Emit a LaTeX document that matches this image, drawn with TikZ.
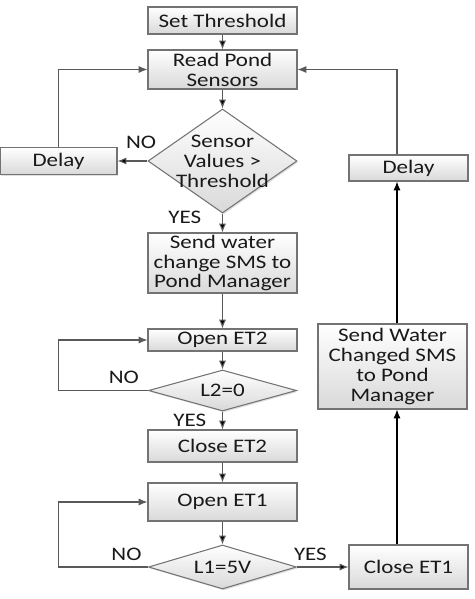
\documentclass[tikz,border=0pt]{standalone}
\usepackage{fontspec}
\setmainfont{Carlito}[FakeStretch=1.2]
\usepackage{tikz}
\usetikzlibrary{shapes.geometric, positioning, arrows.meta, shadows}
\tikzset{->,>={Latex[length=5pt,width=4pt]},
node distance=1cm,
every node/.style={font=\fontsize{10.9}{11.3}\selectfont, text=black!90},
box/.style={draw=black!55, line width=0.6pt, top color=white, bottom color=black!15,
  align=center, inner sep=0pt, minimum width=2.98cm,
  drop shadow={shadow xshift=0.8pt, shadow yshift=-0.8pt, opacity=0.25}},
decision/.style={box, diamond, aspect=3.5},
link/.style={draw=black!65, line width=0.6pt}}

\begin{document}
\begin{tikzpicture}
\useasboundingbox (0,0) rectangle (9.5,-11.98);
\node[box,minimum height=0.54cm] (thr) at (4.45,-0.41) {Set Threshold};
\node[box,minimum height=0.78cm,node distance=0.98cm,below of=thr] (read) {Read Pond\\Sensors};
\node[decision,minimum height=2.08cm,node distance=1.83cm,below of=read,
  label={[align=center]center:Sensor\\Values >\\Threshold}] (dec1) {};
\node[box,minimum width=2.34cm,minimum height=0.54cm,node distance=3.28cm,left of=dec1] (delayL) {Delay};
\node[box,minimum width=2.38cm,minimum height=0.52cm,node distance=3.72cm,right of=dec1,yshift=-0.14cm] (delayR) {Delay};
\node[box,minimum height=1.2cm,node distance=2.04cm,below of=dec1] (sms) {Send water\\change SMS to\\Pond Manager};
\node[box,minimum height=0.44cm,node distance=1.54cm,below of=sms] (open2) {Open ET2};
\node[decision,minimum width=2.96cm,minimum height=0.82cm,node distance=1.01cm,below of=open2] (dec2) {L2=0};
\node[box,minimum height=0.64cm,node distance=1.11cm,below of=dec2] (close2) {Close ET2};
\node[box,minimum height=0.76cm,node distance=1.12cm,below of=close2] (open1) {Open ET1};
\node[decision,minimum width=2.96cm,minimum height=0.88cm,node distance=1.3cm,below of=open1] (dec3) {L1=5V};
\node[box,minimum width=2.38cm,minimum height=0.88cm,node distance=3.72cm,right of=dec3] (close1) {Close ET1};
\node[box,minimum height=1.7cm,node distance=4.01cm,above of=close1,xshift=-0.32cm] (smsR) {Send Water\\Changed SMS\\to Pond\\Manager};
\coordinate (rx) at (7.94,0);
\draw[link]
(thr) edge (read)
(read) edge (dec1)
(dec1) edge node[pos=0,anchor=south east,xshift=0.3cm,yshift=0.12cm]{NO} (delayL)
(dec1) edge node[pos=0.2,left=0.3cm]{YES} (sms)
(sms) edge (open2)
(open2) edge (dec2)
(dec2) edge node[left=0.2cm]{YES} (close2)
(close2) edge (open1)
(open1) edge (dec3)
(dec3) edge node[above,pos=0.26]{YES} (close1)
;
% loops back
\draw[link] (delayL) -- (delayL |- read) -- (read);
\draw[link] (delayR.north -| rx) -- (rx |- read.east) -- (read.east);
\draw[link] (dec2.west) -- node[above,pos=0.27]{NO} (dec2.west -| delayL) |- (open2.west);
\draw[link] (dec3.west) -- node[above,pos=0.24]{NO} (dec3.west -| delayL) |- (open1.west);
\draw[link,draw=black] (smsR.north -| rx) -- (delayR.south -| rx);
\draw[link,draw=black] (close1.north -| rx) -- (smsR.south -| rx);
\end{tikzpicture}
\end{document}
